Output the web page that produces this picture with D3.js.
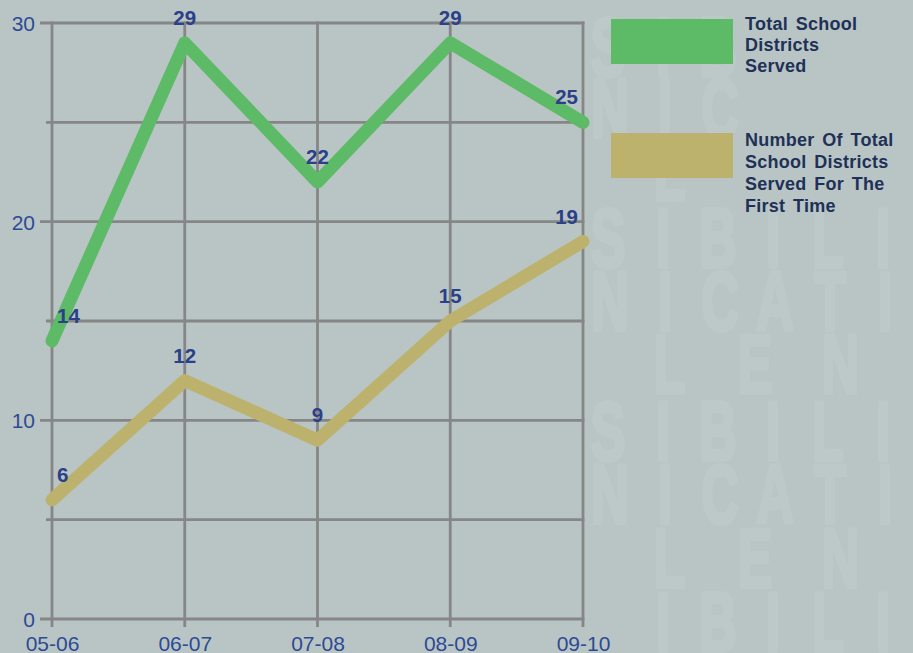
<!DOCTYPE html>
<html>
<head>
<meta charset="utf-8">
<script src="https://cdn.jsdelivr.net/npm/d3@7/dist/d3.min.js"></script>
<style>
  html, body { margin: 0; padding: 0; background: #b9c5c5; }
  svg { display: block; }
</style>
</head>
<body>
<svg id="chart" width="913" height="653"></svg>
<script>
// ---------- data ----------
const categories = ["05-06", "06-07", "07-08", "08-09", "09-10"];
const totalServed = [14, 29, 22, 29, 25];
const firstTimeServed = [6, 12, 9, 15, 19];
const yMajorTicks = [0, 10, 20, 30];
const yGridTicks = [0, 5, 10, 15, 20, 25, 30];
const seriesNames = ["Total School Districts Served", "Number Of Total School Districts Served For The First Time"];
const legendLines = [["Total School", "Districts", "Served"], ["Number Of Total", "School Districts", "Served For The", "First Time"]];
const watermarkWords = ["RESPONSIBILITY", "COMMUNICATION", "EXCELLENCE"];

// ---------- setup ----------
const W = 913, H = 653;
const svg = d3.select("#chart");
const colors = ["#5dba66", "#bcb26e"];
const gridColor = "#868686";
const labelBlue = "#2d4a94";
const font = "Liberation Sans, Arial, sans-serif";

svg.append("rect").attr("width", W).attr("height", H).attr("fill", "#b9c5c5");

// ---------- watermark (faint background lettering, right side) ----------
const rowDefs = [
  { word: 0, x0: 278, pitch: 55, base: 76 },
  { word: 1, x0: 335, pitch: 55, base: 137 },
  { word: 2, x0: 242, pitch: 85.5, base: 200 },
  { word: 0, x0: 278, pitch: 55, base: 267 },
  { word: 1, x0: 335, pitch: 55, base: 330 },
  { word: 2, x0: 242, pitch: 85.5, base: 393 },
  { word: 0, x0: 278, pitch: 55, base: 460 },
  { word: 1, x0: 335, pitch: 55, base: 523 },
  { word: 2, x0: 242, pitch: 85.5, base: 587 },
  { word: 0, x0: 278, pitch: 55, base: 651 }
];
const wm = [];
rowDefs.forEach(r => {
  watermarkWords[r.word].split("").forEach((ch, i) => {
    const cx = r.x0 + i * r.pitch;
    if (cx < 600 || cx > 895) return;
    if (r.base < 230 && cx > 740) return; // keep legend text area clean
    if (r.base > 600 && cx < 640) return; // keep the last x label clean
    wm.push({ ch, x: cx, y: r.base });
  });
});
svg.append("g").selectAll("text").data(wm).join("text")
  .attr("transform", d => `translate(${d.x},${d.y}) scale(0.62,1)`)
  .attr("text-anchor", "middle")
  .attr("font-family", font)
  .attr("font-weight", "bold")
  .attr("font-size", 84)
  .attr("fill", "#bdc9c9")
  .attr("stroke", "#bdc9c9")
  .attr("stroke-width", 4)
  .attr("stroke-linejoin", "round")
  .text(d => d.ch);

// ---------- scales ----------
const x = d3.scalePoint().domain(categories).range([52, 583]);
const y = d3.scaleLinear().domain([0, 30]).range([619, 23]);

// ---------- grid ----------
const grid = svg.append("g");
grid.selectAll("line.h").data(yGridTicks).join("line").attr("class", "h")
  .attr("x1", d => x.range()[0] - (yMajorTicks.includes(d) ? 12 : 6))
  .attr("x2", x.range()[1] + 1.4)
  .attr("y1", d => y(d)).attr("y2", d => y(d))
  .attr("stroke", gridColor).attr("stroke-width", 2.8);
grid.selectAll("line.v").data(categories).join("line").attr("class", "v")
  .attr("x1", d => x(d)).attr("x2", d => x(d))
  .attr("y1", y(30) - 1.4).attr("y2", y(0) + 8)
  .attr("stroke", gridColor).attr("stroke-width", 2.8);

// ---------- axes labels ----------
const yAxis = d3.axisLeft(y).tickValues(yMajorTicks).tickSize(0).tickPadding(17);
const yg = svg.append("g").attr("transform", `translate(${x.range()[0]},0)`).call(yAxis);
yg.select(".domain").remove();
yg.selectAll("text").attr("font-family", font)
  .attr("font-size", 21).attr("fill", labelBlue).attr("dy", "0.36em");

const xAxis = d3.axisBottom(x).tickSize(0).tickPadding(0);
const xg = svg.append("g").call(xAxis);
xg.select(".domain").remove();
xg.selectAll("text").attr("font-family", font)
  .attr("font-size", 21).attr("fill", labelBlue).attr("y", 651).attr("dy", 0);

// ---------- lines ----------
const series = [totalServed, firstTimeServed];
const line = d3.line().x((d, i) => x(categories[i])).y(d => y(d));
svg.append("g").selectAll("path").data(series).join("path")
  .attr("d", d => line(d))
  .attr("fill", "none")
  .attr("stroke", (d, i) => colors[i])
  .attr("stroke-width", 13)
  .attr("stroke-linecap", "round")
  .attr("stroke-linejoin", "round");

// ---------- data labels ----------
const labelData = [];
series.forEach((s, si) => s.forEach((v, i) => labelData.push({ v, i, si })));
const last = categories.length - 1;
svg.append("g").selectAll("text").data(labelData).join("text")
  .attr("x", d => x(categories[d.i]) + (d.i === 0 ? 5 : d.i === last ? -5 : 0))
  .attr("y", d => y(d.v) - 18)
  .attr("text-anchor", d => d.i === 0 ? "start" : d.i === last ? "end" : "middle")
  .attr("font-family", font)
  .attr("font-weight", "bold")
  .attr("font-size", 20.5)
  .attr("fill", "#2a4088")
  .text(d => d.v);

// ---------- legend ----------
const legendTops = [19, 133];
const lg = svg.append("g");
seriesNames.forEach((name, i) => {
  const g = lg.append("g").attr("aria-label", name);
  g.append("rect").attr("x", 611).attr("y", legendTops[i]).attr("width", 122).attr("height", 45)
    .attr("fill", colors[i]);
  const lh = i === 0 ? 20.8 : 22;
  const b0 = i === 0 ? 30 : 145.5;
  g.selectAll("text").data(legendLines[i]).join("text")
    .attr("x", 745)
    .attr("y", (d, k) => b0 + k * lh)
    .attr("font-family", font)
    .attr("font-weight", "bold")
    .attr("font-size", 18)
    .attr("letter-spacing", 0.25)
    .attr("word-spacing", 2.5)
    .attr("fill", "#1f3157")
    .text(d => d);
});
</script>
</body>
</html>
